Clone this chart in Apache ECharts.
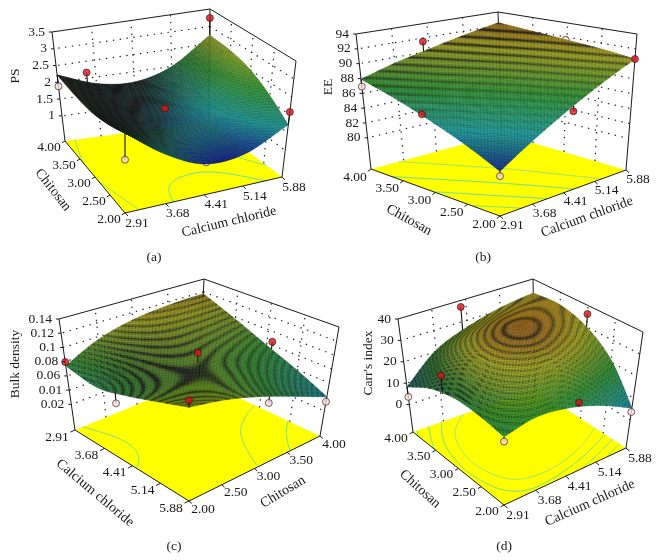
<!DOCTYPE html>
<html>
<head>
<meta charset="utf-8">
<style>html,body{margin:0;padding:0;background:#fff}#c{width:659px;height:560px}</style>
<script src="https://cdn.jsdelivr.net/npm/echarts@6/dist/echarts.min.js"></script>
</head>
<body>
<div id="c"></div>
<script>
// ---------- data ----------
const calciumTicks = [2.91, 3.68, 4.41, 5.14, 5.88];
const chitosanTicks = [2.00, 2.50, 3.00, 3.50, 4.00];

// surface heights: rows = chitosan ticks, columns = calcium chloride ticks
const psValues = [
  [2.40, 1.60, 1.10, 1.15, 1.71],
  [2.20, 1.60, 1.42, 1.50, 2.15],
  [2.09, 1.62, 1.50, 1.72, 2.50],
  [2.12, 1.70, 1.60, 1.88, 2.68],
  [2.22, 1.81, 1.70, 2.00, 2.75]
];
const eeValues = [
  [81.3, 83.8, 86.2, 88.5, 90.65],
  [83.2, 85.4, 87.4, 89.4, 91.2],
  [84.9, 86.8, 88.5, 90.1, 91.6],
  [86.5, 88.1, 89.5, 90.8, 92.0],
  [87.9, 89.2, 90.3, 91.4, 92.4]
];
const bulkValues = [
  [0.074, 0.067, 0.078, 0.092, 0.106],
  [0.096, 0.088, 0.087, 0.091, 0.097],
  [0.109, 0.098, 0.090, 0.087, 0.082],
  [0.115, 0.099, 0.085, 0.074, 0.062],
  [0.117, 0.097, 0.077, 0.059, 0.040]
];
const carrValues = [
  [16, 19, 17.3, 12.5, 5.4],
  [18, 27.5, 31, 27.5, 21],
  [18.4, 31.5, 37, 35, 30],
  [15.3, 28.5, 34.5, 35.5, 34],
  [8.3, 20.6, 26.8, 31, 33.3]
];

// design points: calcium chloride, chitosan, response, kind
const psPoints = [
  [5.88, 4, 3.24, 'above'], [3.48, 4, 2.17, 'above'], [4.51, 3.32, 1.5, 'above'], [5.88, 2, 2.07, 'above'],
  [2.91, 4, 1.88, 'below'], [2.91, 2, 1.68, 'below'], [4.41, 2, 1.14, 'hidden']
];
const eePoints = [
  [4.28, 4, 91.5, 'above'], [2.91, 3.14, 85.5, 'above'], [4.56, 2, 86, 'above'], [5.88, 2, 90.65, 'above'],
  [2.91, 2, 80.7, 'below'], [2.91, 4, 86.9, 'below'], [5.88, 3.02, 91.6, 'hidden']
];
const bulkPoints = [
  [2.91, 2, 0.0796, 'above'], [5.88, 2, 0.115, 'above'], [4.41, 3, 0.103, 'above'], [4.51, 4, 0.085, 'above'],
  [4.10, 2, 0.059, 'below'], [5.88, 3.13, 0.068, 'below'], [5.88, 4, 0.033, 'below']
];
const carrPoints = [
  [4.28, 4, 37, 'above'], [5.88, 3, 36, 'above'], [2.91, 3.24, 25, 'above'], [4.60, 2, 18, 'above'],
  [2.91, 4, 3.6, 'below'], [2.91, 2, 14, 'below'], [5.88, 2, 3.6, 'below']
];

// vertical axis ticks
const psTicks = [1, 1.5, 2, 2.5, 3, 3.5];
const psTickLabels = ['1', '1.5', '2', '2.5', '3', '3.5'];
const eeTicks = [80, 82, 84, 86, 88, 90, 92, 94];
const eeTickLabels = ['80', '82', '84', '86', '88', '90', '92', '94'];
const bulkTicks = [0.02, 0.04, 0.06, 0.08, 0.10, 0.12, 0.14];
const bulkTickLabels = ['0.02', '0.01', '0.06', '0.08', '0.1', '0.12', '0.14'];
const carrTicks = [0, 10, 20, 30, 40];
const carrTickLabels = ['0', '10', '20', '30', '40'];

// contour levels on the floor
const psLevels = [2.1, 1.45];
const eeLevels = [83, 85, 87, 89];
const bulkLevels = [0.08, 0.06];
const carrLevels = [10, 15, 20, 25];

// density of the dark mesh moire seen on each surface (same layout as the values)
const psMoire = [[.85,.45,.12,.1,.1],[.95,.75,.25,.12,.1],[1,.95,.5,.15,.1],[1,1,.8,.3,.15],[1,1,.95,.45,.25]];
const eeMoire = [[.05,.1,.2,.4,.6],[.1,.15,.3,.5,.7],[.2,.3,.45,.65,.8],[.4,.5,.65,.8,.85],[.6,.7,.8,.85,.95]];
const bulkMoire = [[.45,.6,.8,.75,.7],[.55,.9,.95,.75,.65],[.55,.75,.75,.65,.6],[.55,.6,.6,.55,.6],[.65,.6,.5,.5,.55]];
const carrMoire = [[.35,.3,.25,.25,.3],[.5,.4,.45,.4,.35],[.75,.5,.8,.55,.45],[.9,.65,.7,.55,.45],[1,.9,.8,.7,.7]];

// ---------- layout ----------
const FONT = '"Liberation Serif","DejaVu Serif",serif';
const INK = '#1a1a1a';
const panels = [
  { name:'PS', caption:'(a)', values:psValues, moire:psMoire, points:psPoints, zTicks:psTicks, zLabels:psTickLabels, levels:psLevels,
    zRange:[0.25,3.5], colorRange:[1.05,3.4], bandStep:0.1, bandMix:0.15,
    F:{'00':[125,213],'10':[282,177],'01':[65,141],'11':[209,122]},
    T:{'00':[125,92],'10':[296,61],'01':[52,32],'11':[210,9]},
    left:[0,1], right:[1,0], back:[1,1], front:[0,0],
    xOff:[12,10], yOff:[-16,6], zDx:-7,
    zTitle:[15,76], xTitle:[229,222,13.5], yTitle:[53,190,-52], cap:[154,257] },
  { name:'EE', caption:'(b)', values:eeValues, moire:eeMoire, points:eePoints, zTicks:eeTicks, zLabels:eeTickLabels, levels:eeLevels,
    zRange:[75.8,94], colorRange:[81,94], bandStep:0.55, bandMix:0.8,
    F:{'00':[500,216],'10':[626,170],'01':[371,169],'11':[502,134]},
    T:{'00':[500,68],'10':[637,34],'01':[356,34],'11':[498,12]},
    left:[0,1], right:[1,0], back:[1,1], front:[0,0],
    xOff:[12,9], yOff:[-16,8], zDx:-7,
    zTitle:[328,87], xTitle:[587,217,20], yTitle:[409,220,-29], cap:[483,257] },
  { name:'Bulk density', caption:'(c)', values:bulkValues, moire:bulkMoire, points:bulkPoints, zTicks:bulkTicks, zLabels:bulkTickLabels, levels:bulkLevels,
    zRange:[-0.016,0.14], colorRange:[0.015,0.14], bandStep:0.0033, bandMix:0.65,
    F:{'00':[75,430],'10':[189,501],'01':[199,379],'11':[320,436]},
    T:{'00':[59,319],'10':[189,381],'01':[204,279],'11':[339,327]},
    left:[0,0], right:[1,1], back:[0,1], front:[1,0],
    xOff:[-18,7], yOff:[14,8], zDx:-7,
    zTitle:[15,364], xTitle:[95,493,-40], yTitle:[283,492,31], cap:[174,546] },
  { name:"Carr's index", caption:'(d)', values:carrValues, moire:carrMoire, points:carrPoints, zTicks:carrTicks, zLabels:carrTickLabels, levels:carrLevels,
    zRange:[-12.8,40], colorRange:[-3,42], bandStep:1.3, bandMix:0.7,
    F:{'00':[504,505],'10':[626,448],'01':[413,432],'11':[535,389]},
    T:{'00':[504,380],'10':[643,332],'01':[398,319],'11':[533,279]},
    left:[0,1], right:[1,0], back:[1,1], front:[0,0],
    xOff:[14,10], yOff:[-17,6], zDx:-7,
    zTitle:[368,363], xTitle:[590,503,24], yTitle:[420,489,-42], cap:[504,546] }
];

const SUB = 20;             // drawing subdivisions per tick cell
const uOf = x => (x - calciumTicks[0]) / (calciumTicks[4] - calciumTicks[0]);
const vOf = y => (y - chitosanTicks[0]) / (chitosanTicks[4] - chitosanTicks[0]);
const lerp = (a, b, t) => a + (b - a) * t;
const lerp2 = (a, b, t) => [lerp(a[0], b[0], t), lerp(a[1], b[1], t)];

function bilerp(C, u, v) {
  return lerp2(lerp2(C['00'], C['10'], u), lerp2(C['01'], C['11'], u), v);
}
function project(p, u, v, w) {
  return lerp2(bilerp(p.F, u, v), bilerp(p.T, u, v), w);
}
const wOf = (p, z) => (z - p.zRange[0]) / (p.zRange[1] - p.zRange[0]);

function cr(a, b, c, d, t) {
  return 0.5 * (2 * b + (c - a) * t + (2 * a - 5 * b + 4 * c - d) * t * t + (3 * b - a - 3 * c + d) * t * t * t);
}
function node(M, i, j) {
  const row = j < 0 ? M[0].map((q, k) => 2 * M[0][k] - M[1][k]) : j > 4 ? M[4].map((q, k) => 2 * M[4][k] - M[3][k]) : M[j];
  if (i < 0) return 2 * row[0] - row[1];
  if (i > 4) return 2 * row[4] - row[3];
  return row[i];
}
function smooth(M, u, v) {
  const su = u * 4, sv = v * 4;
  const i = Math.min(3, Math.floor(su)), j = Math.min(3, Math.floor(sv));
  const tu = su - i, tv = sv - j, r = [];
  for (let k = -1; k <= 2; k++) r.push(cr(node(M, i - 1, j + k), node(M, i, j + k), node(M, i + 1, j + k), node(M, i + 2, j + k), tu));
  return cr(r[0], r[1], r[2], r[3], tv);
}

const ramp = [[10,26,154],[24,160,160],[50,160,50],[190,190,30],[192,74,20]];
function rampColor(t) {
  t = Math.max(0, Math.min(0.9999, t)) * 4;
  const k = Math.floor(t), f = t - k;
  return [0,1,2].map(c => lerp(ramp[k][c], ramp[k + 1][c], f));
}
function cellColor(p, z, u, v, a, b) {
  const base = rampColor((z - p.colorRange[0]) / (p.colorRange[1] - p.colorRange[0]));
  const s = Math.max(0, Math.min(1, smooth(p.moire, u, v)));
  const wave = Math.pow(0.5 + 0.5 * Math.cos(2 * Math.PI * z / p.bandStep), 3);
  let dark = s * (1 - p.bandMix + p.bandMix * wave);
  dark = Math.min(1, dark + (((a + b) % 2) ? 0.22 : 0.02));
  return 'rgb(' + base.map(c => Math.round(lerp(c, 20, dark))).join(',') + ')';
}

const N = SUB * 4;
panels.forEach(p => {
  p.mesh = [];
  for (let j = 0; j <= N; j++) {
    const row = [];
    for (let i = 0; i <= N; i++) {
      const u = i / N, v = j / N, z = smooth(p.values, u, v);
      row.push({ u, v, z, xy: project(p, u, v, wOf(p, z)) });
    }
    p.mesh.push(row);
  }
});

// ---------- series builders ----------
const line = (a, b, style) => ({ type:'line', shape:{ x1:a[0], y1:a[1], x2:b[0], y2:b[1] }, style:Object.assign({ stroke:INK, lineWidth:1 }, style), silent:true });
const label = (text, x, y, size, align, rot) => ({ type:'text', x, y, rotation:(rot || 0) * Math.PI / 180,
  style:{ text, fill:INK, fontFamily:FONT, fontSize:size, align:align || 'center', verticalAlign:'middle' }, silent:true });

function staticSeries(build, z) {
  return { type:'custom', coordinateSystem:'cartesian2d', clip:false, silent:true, animation:false, z, data:[[0,0]],
    renderItem:(params, api) => ({ type:'group', children:build(c => api.coord(c)) }) };
}

function backdrop(p) {
  return staticSeries(coord => {
    const out = [];
    const C = (u, v, w) => coord(project(p, u, v, w));
    // floor
    const floor = [[0,0],[1,0],[1,1],[0,1]].map(a => C(a[0], a[1], 0));
    out.push({ type:'polygon', shape:{ points:floor }, style:{ fill:'#ffff00', stroke:null }, silent:true });
    // contours from the smoothed surface
    const colors = ['#7ce08a','#66dcb4','#6edc9c','#98e47c'];
    p.levels.forEach((lev, li) => {
      const col = colors[li % colors.length];
      for (let j = 0; j < N; j++) for (let i = 0; i < N; i++) {
        const q = [p.mesh[j][i], p.mesh[j][i+1], p.mesh[j+1][i+1], p.mesh[j+1][i]], hits = [];
        for (let e = 0; e < 4; e++) {
          const A = q[e], B = q[(e + 1) % 4];
          if ((A.z - lev) * (B.z - lev) < 0) {
            const t = (lev - A.z) / (B.z - A.z);
            hits.push(C(lerp(A.u, B.u, t), lerp(A.v, B.v, t), 0));
          }
        }
        if (hits.length >= 2) out.push(line(hits[0], hits[1], { stroke:col, lineWidth:1 }));
      }
    });
    // dotted wall grid
    const dot = { stroke:'#222', lineWidth:1.2, lineDash:[1.4,5.5] };
    [p.left, p.right].forEach(end => {
      [0.25, 0.5, 0.75].forEach(t => {
        const u = lerp(p.back[0], end[0], t), v = lerp(p.back[1], end[1], t);
        out.push(line(C(u, v, 0), C(u, v, 1), dot));
      });
      p.zTicks.forEach(z => {
        const w = wOf(p, z);
        if (w < 0.99) out.push(line(C(p.back[0], p.back[1], w), C(end[0], end[1], w), dot));
      });
    });
    // box edges
    [p.left, p.right, p.back].forEach(a => out.push(line(C(a[0], a[1], 0), C(a[0], a[1], 1))));
    out.push(line(C(p.left[0], p.left[1], 1), C(p.back[0], p.back[1], 1)));
    out.push(line(C(p.right[0], p.right[1], 1), C(p.back[0], p.back[1], 1)));
    out.push(line(C(p.left[0], p.left[1], 0), C(p.front[0], p.front[1], 0)));
    out.push(line(C(p.right[0], p.right[1], 0), C(p.front[0], p.front[1], 0)));
    return out;
  }, 1);
}

function surfaceSeries(p) {
  // one datum per tick crossing, back corner first so nearer cells paint last
  const data = [];
  const order = b => b ? [3,2,1,0] : [0,1,2,3];
  const us = order(p.back[0]), vs = order(p.back[1]);
  vs.forEach(j => us.forEach(i => data.push([calciumTicks[i], chitosanTicks[j], p.values[j][i], i, j])));
  return { type:'custom', coordinateSystem:'cartesian2d', clip:false, silent:true, animation:false, z:3, data,
    encode:{ x:0, y:1 },
    renderItem:(params, api) => {
      const ci = api.value(3), cj = api.value(4), kids = [];
      const ai = [...Array(SUB).keys()], aj = [...Array(SUB).keys()];
      if (p.back[0]) ai.reverse();
      if (p.back[1]) aj.reverse();
      aj.forEach(b => ai.forEach(a => {
        const i = ci * SUB + a, j = cj * SUB + b, m = p.mesh;
        const q = [m[j][i], m[j][i+1], m[j+1][i+1], m[j+1][i]];
        const zc = (q[0].z + q[1].z + q[2].z + q[3].z) / 4;
        const col = cellColor(p, zc, (i + .5) / N, (j + .5) / N, i, j);
        kids.push({ type:'polygon', shape:{ points:q.map(t => api.coord(t.xy)) }, style:{ fill:col, stroke:col, lineWidth:0.4 }, silent:true });
      }));
      return { type:'group', children:kids };
    } };
}

function pointSeries(p, hidden) {
  const pts = p.points.filter(d => (d[3] === 'hidden') === hidden);
  return { type:'scatter', coordinateSystem:'cartesian2d', silent:true, animation:false, z:hidden ? 2 : 5, clip:false,
    symbol:'circle', symbolSize:7,
    data:pts.map(d => ({ value:project(p, uOf(d[0]), vOf(d[1]), wOf(p, d[2])),
      itemStyle:{ color:d[3] === 'above' ? '#d8141c' : '#f6dcdc', borderColor:'#2a1010', borderWidth:0.8 } })) };
}

function stemSeries(p) {
  return staticSeries(coord => p.points.filter(d => d[3] !== 'hidden').map(d => {
    const u = uOf(d[0]), v = vOf(d[1]);
    return line(coord(project(p, u, v, wOf(p, d[2]))), coord(project(p, u, v, wOf(p, smooth(p.values, u, v)))), { stroke:'#111', lineWidth:1.1 });
  }), 4);
}

function textSeries(p) {
  return staticSeries(coord => {
    const out = [];
    const L = (text, at, size, align, rot) => { const c = coord(at); out.push(label(text, c[0], c[1], size, align, rot)); };
    calciumTicks.forEach(x => {
      const u = uOf(x), v = p.front[1], a = project(p, u, v, 0);
      L(x.toFixed(2), [a[0] + p.xOff[0], a[1] + p.xOff[1]], 13.5);
      out.push(line(coord(a), coord([a[0] + p.xOff[0] * .25, a[1] + p.xOff[1] * .3])));
    });
    chitosanTicks.forEach(y => {
      const v = vOf(y), u = p.front[0], a = project(p, u, v, 0);
      L(y.toFixed(2), [a[0] + p.yOff[0], a[1] + p.yOff[1]], 13.5);
      out.push(line(coord(a), coord([a[0] + p.yOff[0] * .2, a[1] + p.yOff[1] * .3])));
    });
    p.zTicks.forEach((z, k) => {
      const a = project(p, p.left[0], p.left[1], wOf(p, z));
      L(p.zLabels[k], [a[0] + p.zDx, a[1]], 13.5, 'right');
      out.push(line(coord(a), coord([a[0] - 3, a[1]])));
    });
    L(p.name, p.zTitle, 13.5, 'center', 90);
    L('Calcium chloride', p.xTitle, 14, 'center', p.xTitle[2]);
    L('Chitosan', p.yTitle, 14, 'center', p.yTitle[2]);
    L(p.caption, p.cap, 13.5);
    return out;
  }, 6);
}

const series = [];
panels.forEach(p => {
  series.push(backdrop(p), pointSeries(p, true), surfaceSeries(p), stemSeries(p), pointSeries(p, false), textSeries(p));
});

const chart = echarts.init(document.getElementById('c'), null, { renderer:'canvas', width:659, height:560 });
chart.setOption({
  backgroundColor:'#ffffff',
  animation:false,
  grid:{ left:0, right:0, top:0, bottom:0 },
  xAxis:{ type:'value', min:0, max:659, show:false },
  yAxis:{ type:'value', min:0, max:560, inverse:true, show:false },
  series
});
</script>
</body>
</html>
